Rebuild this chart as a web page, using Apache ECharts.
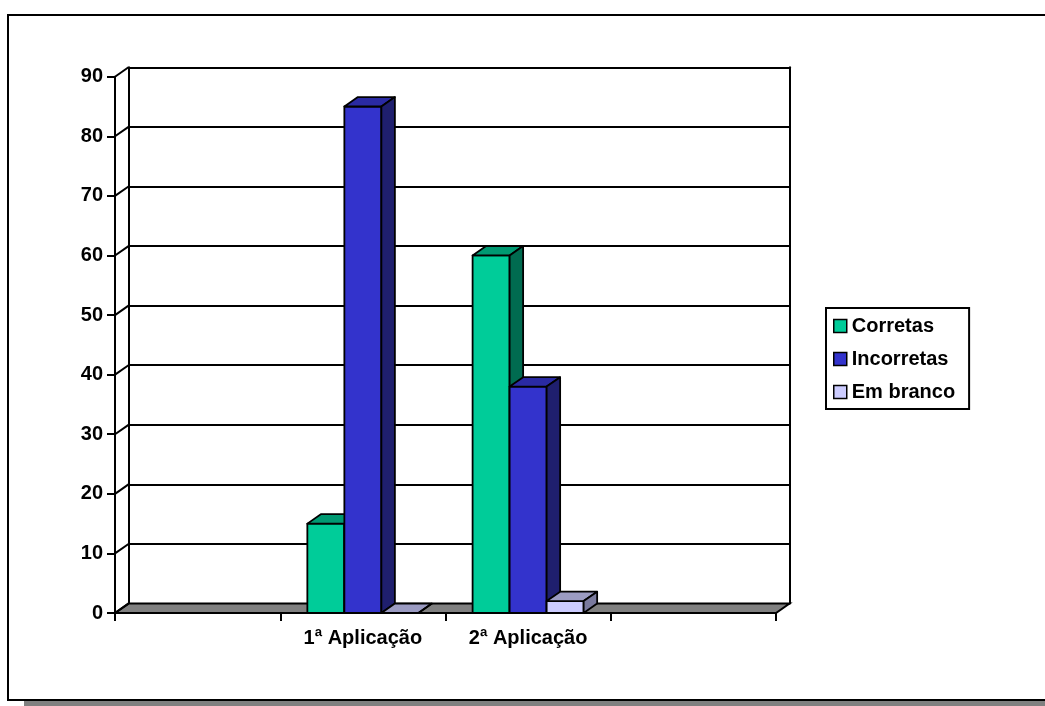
<!DOCTYPE html>
<html>
<head>
<meta charset="utf-8">
<script src="https://cdn.jsdelivr.net/npm/echarts@6/dist/echarts.min.js"></script>
<style>
  html, body { margin: 0; padding: 0; background: #fff; }
  #chart { width: 1045px; height: 706px; }
</style>
</head>
<body>
<div id="chart"></div>
<script>
// Categories (outer slots are empty, as in the original layout)
const categories = [' ', '1ª Aplicação', '2ª Aplicação', '  '];
const seriesNames = ['Corretas', 'Incorretas', 'Em branco'];
const corretas   = [null, 15, 60, null];
const incorretas = [null, 85, 38, null];
const emBranco   = [null, 0, 2, null];
const yTicks = [0, 10, 20, 30, 40, 50, 60, 70, 80, 90];

// Face colours: front, top, side
const palette = [
  { front: '#00CC99', top: '#009972', side: '#006B50' },
  { front: '#3333CC', top: '#2A2AA3', side: '#1F1F6E' },
  { front: '#CCCCFF', top: '#9B9BC2', side: '#7A7A9E' }
];

// Perspective offset of the back plane relative to the front plane
const DX = 13.5, DY = -9.4;
const BAR_RATIO = 0.224;
const FONT = "'Liberation Sans', Arial, sans-serif";

const chart = echarts.init(document.getElementById('chart'), null, { renderer: 'canvas' });

function toData(arr) {
  const out = [];
  arr.forEach((v, i) => { if (v !== null) out.push([i, v]); });
  return out;
}

function barRenderer(idx) {
  const c = palette[idx];
  return function (params, api) {
    const cat = api.value(0), val = api.value(1);
    const base = api.coord([cat, 0]);
    const top = api.coord([cat, val]);
    const band = api.size([1, 0])[0];
    const w = band * BAR_RATIO;
    const x0 = base[0] + (idx - 1.5) * w;
    const x1 = x0 + w;
    const yb = base[1], yt = top[1];
    const stroke = { stroke: '#000', lineWidth: 1.8, lineJoin: 'round' };
    return {
      type: 'group',
      children: [
        { type: 'rect', shape: { x: x0, y: yt, width: w, height: yb - yt },
          style: Object.assign({ fill: c.front }, stroke) },
        { type: 'polygon', shape: { points: [[x0, yt], [x1, yt], [x1 + DX, yt + DY], [x0 + DX, yt + DY]] },
          style: Object.assign({ fill: c.top }, stroke) },
        { type: 'polygon', shape: { points: [[x1, yt], [x1 + DX, yt + DY], [x1 + DX, yb + DY], [x1, yb]] },
          style: Object.assign({ fill: c.side }, stroke) }
      ]
    };
  };
}

const valueSets = [corretas, incorretas, emBranco];

const barSeries = valueSets.map((vals, i) => ({
  name: seriesNames[i],
  type: 'custom',
  xAxisIndex: 0,
  yAxisIndex: 0,
  z: 5 + i,
  itemStyle: { color: palette[i].front },
  renderItem: barRenderer(i),
  data: toData(vals),
  silent: true
}));

option = {
  animation: false,
  backgroundColor: '#fff',
  textStyle: { fontFamily: FONT },
  graphic: [
    { type: 'rect', z: 0, shape: { x: 24, y: 701, width: 1100, height: 8 }, style: { fill: '#808080' } },
    { type: 'rect', z: 0, shape: { x: 8, y: 15, width: 1100, height: 685 }, style: { fill: 'none', stroke: '#000', lineWidth: 2 } }
  ],
  legend: {
    orient: 'vertical',
    left: 826,
    top: 308,
    padding: [8, 14, 7, 7],
    itemGap: 13,
    itemWidth: 13,
    itemHeight: 13,
    icon: 'rect',
    borderColor: '#000',
    borderWidth: 2,
    backgroundColor: '#fff',
    itemStyle: { borderColor: '#000', borderWidth: 1.5 },
    textStyle: { fontFamily: FONT, fontWeight: 'bold', fontSize: 20, color: '#000', lineHeight: 20, padding: [0, 0, 0, 0] },
    data: seriesNames
  },
  grid: [
    // front plane
    { left: 115, right: 269, top: 76.7, bottom: 93 },
    // back wall
    { left: 115 + DX, right: 269 - DX, top: 76.7 + DY, bottom: 93 - DY }
  ],
  xAxis: [
    {
      gridIndex: 0, type: 'category', data: categories, boundaryGap: true,
      axisLine: { show: true, lineStyle: { color: '#000', width: 2 } },
      axisTick: { show: true, interval: 0, length: 8, lineStyle: { color: '#000', width: 2 } },
      axisLabel: { interval: 0, margin: 15, color: '#000', fontFamily: FONT, fontWeight: 'bold', fontSize: 20 },
      splitLine: { show: false }
    },
    {
      gridIndex: 1, type: 'category', data: categories, show: false
    }
  ],
  yAxis: [
    {
      gridIndex: 0, type: 'value', min: 0, max: 90, interval: 10,
      axisLine: { show: true, lineStyle: { color: '#000', width: 2 } },
      axisTick: { show: true, length: 8, lineStyle: { color: '#000', width: 2 } },
      axisLabel: { margin: 12, color: '#000', fontFamily: FONT, fontWeight: 'bold', fontSize: 20 },
      splitLine: { show: false }
    },
    {
      gridIndex: 1, type: 'value', min: 0, max: 90, interval: 10, position: 'left',
      axisLine: { show: true, lineStyle: { color: '#000', width: 2 } },
      axisTick: { show: false }, axisLabel: { show: false },
      splitLine: { show: true, lineStyle: { color: '#000', width: 2 } }
    },
    {
      gridIndex: 1, type: 'value', min: 0, max: 90, interval: 10, position: 'right',
      axisLine: { show: true, lineStyle: { color: '#000', width: 2 } },
      axisTick: { show: false }, axisLabel: { show: false },
      splitLine: { show: false }
    }
  ],
  series: [
    // floor of the plot
    {
      type: 'custom', xAxisIndex: 0, yAxisIndex: 0, z: 2, silent: true,
      data: [[0, 0]],
      renderItem: function (params, api) {
        const cs = params.coordSys;
        const y0 = api.coord([0, 0])[1];
        const xl = cs.x, xr = cs.x + cs.width;
        return {
          type: 'polygon',
          shape: { points: [[xl, y0], [xr, y0], [xr + DX, y0 + DY], [xl + DX, y0 + DY]] },
          style: { fill: '#808080', stroke: '#000', lineWidth: 2 }
        };
      }
    },
    // diagonal links from the value axis to the back wall gridlines
    {
      type: 'custom', xAxisIndex: 0, yAxisIndex: 0, z: 3, silent: true,
      data: yTicks.map(v => [0, v]),
      renderItem: function (params, api) {
        const cs = params.coordSys;
        const y = api.coord([0, api.value(1)])[1];
        return {
          type: 'line',
          shape: { x1: cs.x, y1: y, x2: cs.x + DX, y2: y + DY },
          style: { stroke: '#000', lineWidth: 2 }
        };
      }
    }
  ].concat(barSeries)
};

chart.setOption(option);
</script>
</body>
</html>
